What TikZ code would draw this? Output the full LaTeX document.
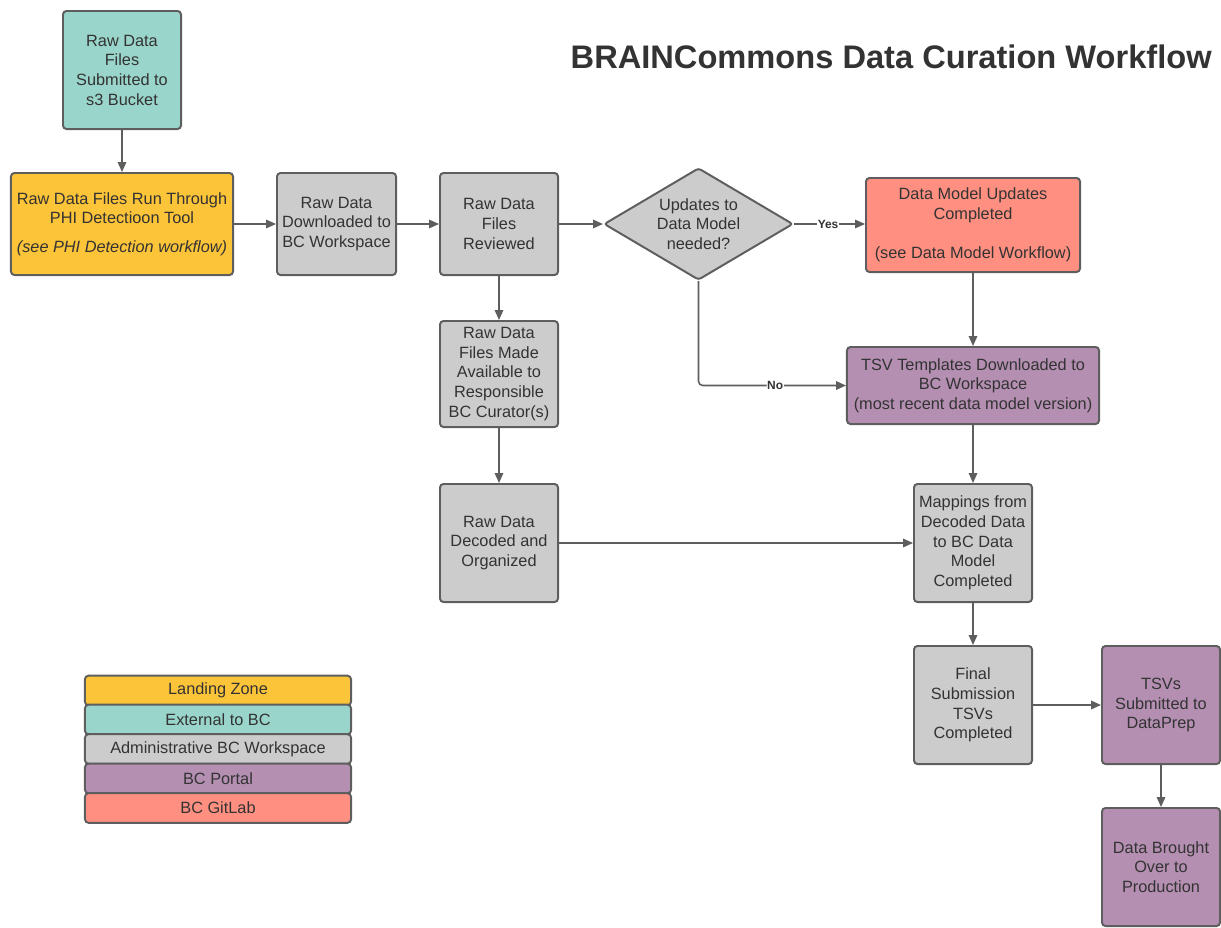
\documentclass[tikz,border=0pt]{standalone}
\usepackage{fontspec}
\setmainfont{Liberation Sans}
\usetikzlibrary{shapes.geometric,arrows.meta}

\definecolor{landing}{HTML}{FCC438}
\definecolor{external}{HTML}{99D5CA}
\definecolor{admin}{HTML}{CCCCCC}
\definecolor{portal}{HTML}{B48FB2}
\definecolor{gitlab}{HTML}{FF8F80}
\definecolor{edge}{HTML}{5E5E5E}
\definecolor{ink}{HTML}{333333}

\tikzset{
  box/.style={draw=edge, line width=1.4pt, rounded corners=2.5pt, align=center,
    text=ink, inner sep=0pt, font=\fontsize{11.6}{14}\selectfont},
  decide/.style={box, diamond, fill=admin, rounded corners=2pt},
  plaintext/.style={align=center, text=ink, inner sep=0pt, font=\fontsize{11.6}{14}\selectfont},
  legendbox/.style={box, minimum width=6.65cm, minimum height=0.74cm},
  conn/.style={draw=edge, line width=1.1pt, -{Triangle[length=7pt,width=6pt]}},
  lbl/.style={fill=white, inner sep=0.5pt, text=ink, font=\fontsize{8.5}{10}\bfseries\selectfont}
}

\begin{document}
\begin{tikzpicture}[x=0.025cm, y=-0.025cm]
  \useasboundingbox (0,0) rectangle (1221,927);

  \node[anchor=east, inner sep=0pt, text=ink, font=\fontsize{23.2}{26}\bfseries\selectfont]
    (title) at (1212,57) {BRAINCommons Data Curation Workflow};

  % top row
  \node[box, fill=external, minimum width=2.95cm, minimum height=2.95cm] (s3bucket) at (122,70)
    {Raw Data\\Files\\Submitted to\\s3 Bucket};
  \node[box, fill=landing, minimum width=5.55cm, minimum height=2.55cm] (phitool) at (122,224)
    {Raw Data Files Run Through\\PHI Detectioon Tool\\[0.22cm]\textit{(see PHI Detection workflow)}};
  \node[box, fill=admin, minimum width=2.975cm, minimum height=2.55cm] (download) at (336.5,224)
    {Raw Data\\Downloaded to\\BC Workspace};
  \node[box, fill=admin, minimum width=2.95cm, minimum height=2.55cm] (review) at (499,224)
    {Raw Data\\Files\\Reviewed};
  \node[decide, minimum width=4.725cm, minimum height=2.8cm] (decision) at (698.5,224) {};
  \node[plaintext] (decisiontext) at (decision) {Updates to\\Data Model\\needed?};
  \node[box, fill=gitlab, minimum width=5.35cm, minimum height=2.35cm] (dmupdate) at (973,225)
    {Data Model Updates\\Completed\\[0.48cm](see Data Model Workflow)};

  % middle
  \node[box, fill=portal, minimum width=6.3cm, minimum height=1.925cm] (tsvtemp) at (973,385.5)
    {TSV Templates Downloaded to\\BC Workspace\\(most recent data model version)};
  \node[box, fill=admin, minimum width=2.95cm, minimum height=2.65cm] (avail) at (499,374)
    {Raw Data\\Files Made\\Available to\\Responsible\\BC Curator(s)};
  \node[box, fill=admin, minimum width=2.95cm, minimum height=2.95cm] (decode) at (499,543)
    {Raw Data\\Decoded and\\Organized};
  \node[box, fill=admin, minimum width=2.95cm, minimum height=2.95cm] (mapping) at (973,543)
    {Mappings from\\Decoded Data\\to BC Data\\Model\\Completed};

  % bottom
  \node[box, fill=admin, minimum width=2.95cm, minimum height=2.95cm] (final) at (973,705)
    {Final\\Submission\\TSVs\\Completed};
  \node[box, fill=portal, minimum width=2.95cm, minimum height=2.95cm] (dataprep) at (1161,705)
    {TSVs\\Submitted to\\DataPrep};
  \node[box, fill=portal, minimum width=2.95cm, minimum height=2.95cm] (production) at (1161,867)
    {Data Brought\\Over to\\Production};

  % legend
  \node[legendbox, fill=landing] (lz) at (218,690.5) {Landing Zone};
  \node[legendbox, fill=external] (ext) at (218,719.5) {External to BC};
  \node[legendbox, fill=admin] (adm) at (218,749) {Administrative BC Workspace};
  \node[legendbox, fill=portal] (prt) at (218,778.5) {BC Portal};
  \node[legendbox, fill=gitlab] (gl) at (218,808) {BC GitLab};

  % connectors
  \draw[conn] (s3bucket) -- (phitool);
  \draw[conn] (phitool) -- (download);
  \draw[conn] (download) -- (review);
  \draw[conn] (review) -- (decision);
  \draw[conn] (decision.east) -- node[lbl, pos=0.48] {Yes} (dmupdate.west |- decision.east);
  \draw[conn, rounded corners=3pt] (decision.south) |- node[lbl, pos=0.76] {No} (tsvtemp.west);
  \draw[conn] (dmupdate) -- (tsvtemp);
  \draw[conn] (review) -- (avail);
  \draw[conn] (avail) -- (decode);
  \draw[conn] (tsvtemp) -- (mapping);
  \draw[conn] (decode) -- (mapping);
  \draw[conn] (mapping) -- (final);
  \draw[conn] (final) -- (dataprep);
  \draw[conn] (dataprep) -- (production);
\end{tikzpicture}
\end{document}
